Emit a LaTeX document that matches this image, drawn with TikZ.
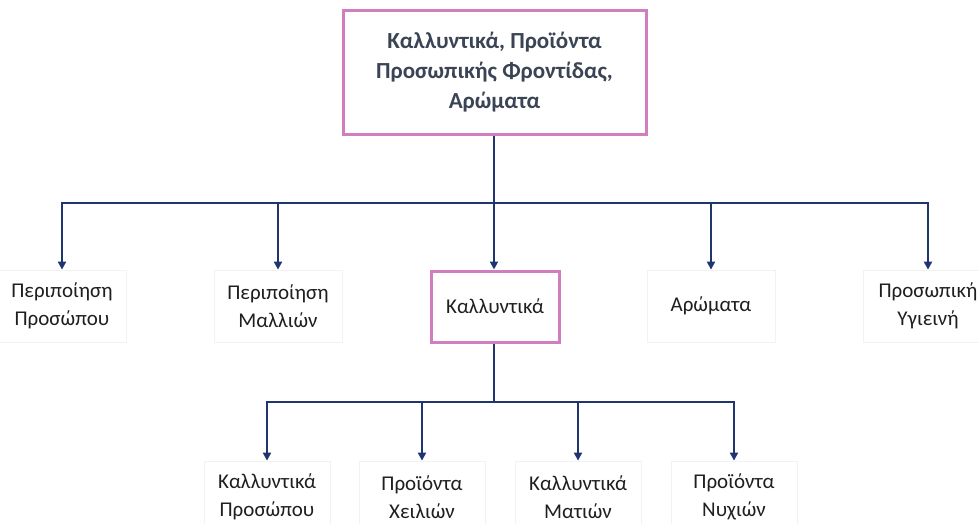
\documentclass[tikz,border=0pt]{standalone}
\usepackage{fontspec}
\setmainfont{Carlito}
\usetikzlibrary{arrows.meta}
\definecolor{navy}{HTML}{1F3570}
\definecolor{pinkb}{HTML}{D07EBE}
\definecolor{toptext}{HTML}{3A4454}
\definecolor{faint}{HTML}{F2F2F2}
\tikzset{
  topbox/.style={draw=pinkb, line width=3pt, minimum width=303pt, minimum height=123pt, align=center, text=toptext, font=\fontsize{23}{30}\selectfont\bfseries, inner sep=0pt},
  pinkbox/.style={draw=pinkb, line width=3pt, minimum width=128pt, minimum height=71pt, align=center, font=\fontsize{21}{28}\selectfont, inner sep=0pt, text=black!88},
  leaf/.style={draw=faint, line width=0.8pt, minimum width=128pt, minimum height=72pt, align=center, font=\fontsize{21}{28}\selectfont, inner sep=0pt, text=black!88},
  conn/.style={draw=navy, line width=2.8pt},
  arr/.style={draw=navy, line width=2.8pt, -{Triangle[width=8pt,length=8pt]}}
}
\begin{document}
\begin{tikzpicture}[x=1pt,y=-1pt]
\useasboundingbox (0,0) rectangle (979,524);
\fill[white] (0,0) rectangle (979,524);
\node[topbox] (top) at (494.5,72.5) {Καλλυντικά, Προϊόντα\\Προσωπικής Φροντίδας,\\Αρώματα};
\node[leaf] (n1) at (62,306) {Περιποίηση\\Προσώπου};
\node[leaf] (n2) at (278,306) {Περιποίηση\\Μαλλιών};
\node[pinkbox] (n3) at (495,306.5) {Καλλυντικά};
\node[leaf] (n4) at (711,306) {Αρώματα};
\node[leaf, minimum width=130pt] (n5) at (928,306) {Προσωπική\\Υγιεινή};
\node[leaf, minimum width=126pt] (b1) at (267,497) {Καλλυντικά\\Προσώπου};
\node[leaf, minimum width=126pt] (b2) at (422,497) {Προϊόντα\\Χειλιών};
\node[leaf, minimum width=126pt] (b3) at (578,497) {Καλλυντικά\\Ματιών};
\node[leaf, minimum width=126pt] (b4) at (734,497) {Προϊόντα\\Νυχιών};
\coordinate (j1) at (494,203);
\coordinate (j2) at (494,402);
\draw[conn] (top.south -| j1) -- (j1);
\draw[arr] (j1) -| (n1);
\draw[arr] (j1) -| (n2);
\draw[arr] (j1) -- (n3.north -| j1);
\draw[arr] (j1) -| (n4);
\draw[arr] (j1) -| (n5);
\draw[conn] (n3.south -| j2) -- (j2);
\draw[arr] (j2) -| (b1);
\draw[arr] (j2) -| (b2);
\draw[arr] (j2) -| (b3);
\draw[arr] (j2) -| (b4);
\end{tikzpicture}
\end{document}
